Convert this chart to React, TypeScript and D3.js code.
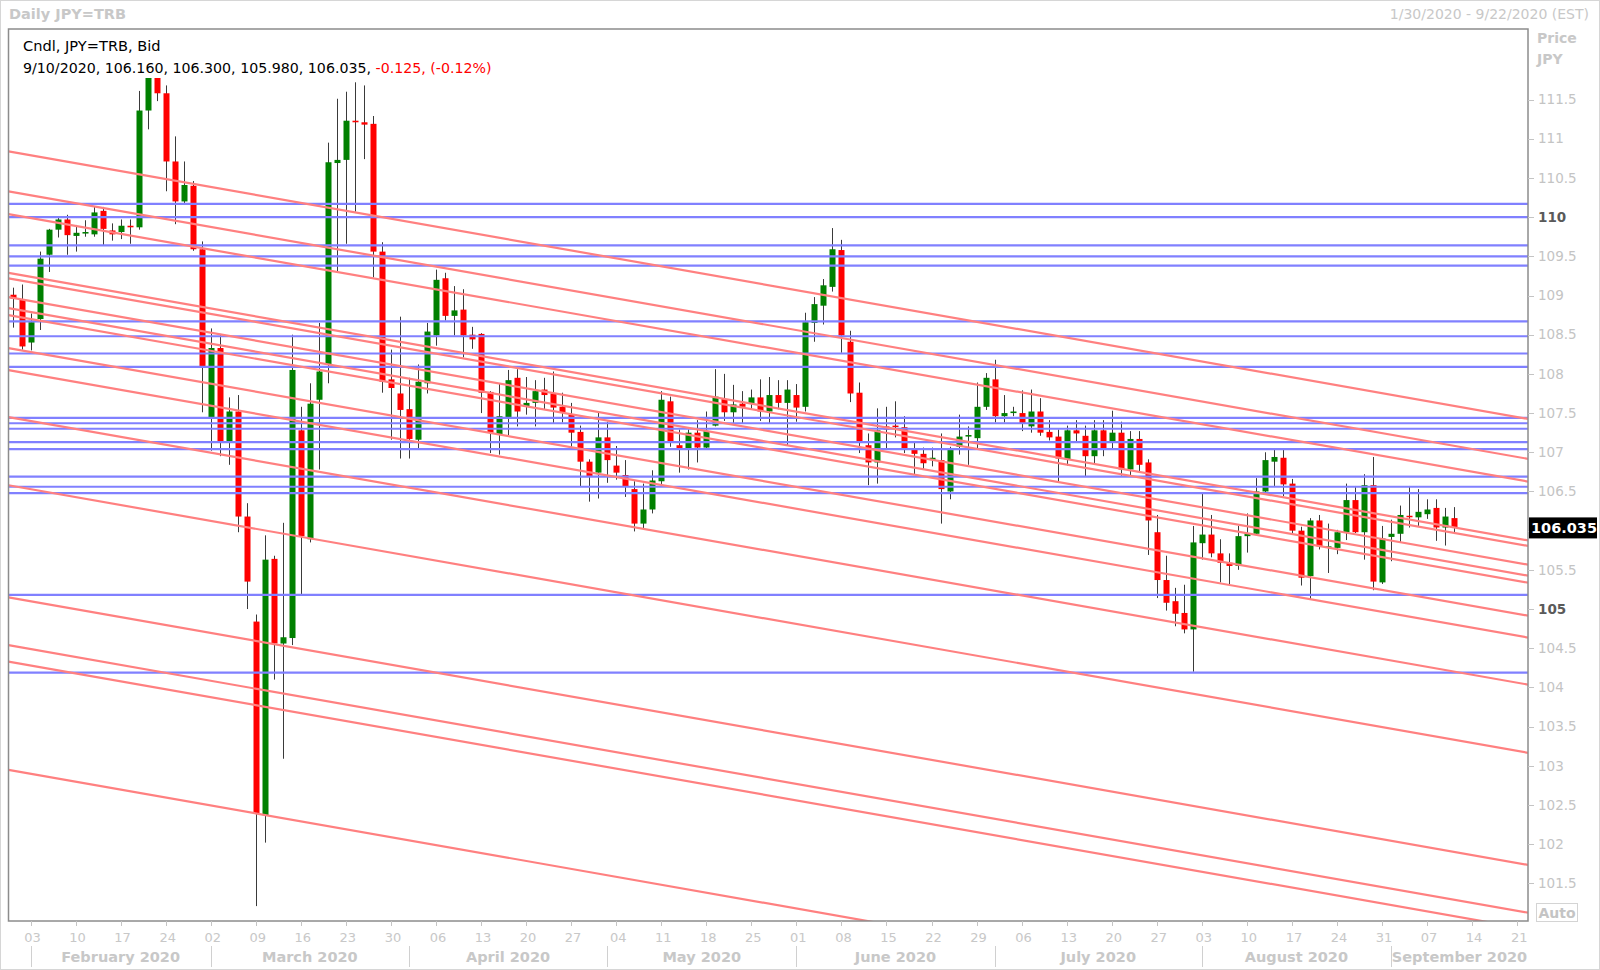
import { useEffect, useRef } from "react"
import * as d3 from "d3"

// daily bars, one per weekday starting 30 Jan 2020
const firstDay = new Date(2020, 0, 30)
const lastDay = new Date(2020, 8, 22)

const opens = [
  109.01, 108.95, 108.40, 108.70, 109.52, 109.84, 109.97, 109.76, 109.79, 109.78,
  110.08, 109.83, 109.81, 109.89, 109.87, 111.36, 112.09, 111.58, 110.71, 110.20,
  110.40, 109.59, 107.44, 108.33, 107.13, 107.52, 106.18, 104.84, 102.37, 105.64,
  104.56, 104.63, 107.28, 105.89, 107.67, 108.12, 110.69, 110.73, 111.23, 111.21,
  111.19, 109.56, 107.93, 107.75, 107.55, 107.16, 107.88, 108.49, 109.22, 108.74,
  108.82, 108.50, 108.51, 107.77, 107.22, 107.45, 107.95, 107.58, 107.63, 107.80,
  107.75, 107.58, 107.48, 107.26, 106.88, 106.74, 107.19, 106.83, 106.71, 106.53,
  106.09, 106.27, 106.63, 107.65, 107.09, 107.03, 107.25, 107.06, 107.34, 107.68,
  107.51, 107.62, 107.62, 107.70, 107.52, 107.73, 107.63, 107.73, 107.58, 108.65,
  108.87, 109.11, 109.58, 108.41, 107.76, 107.09, 106.87, 107.33, 107.34, 107.32,
  107.03, 106.98, 106.90, 106.90, 106.50, 107.07, 107.20, 107.18, 107.58, 107.93,
  107.46, 107.50, 107.50, 107.33, 107.52, 107.26, 107.20, 106.91, 107.28, 107.21,
  106.95, 107.28, 107.14, 107.25, 106.78, 107.17, 106.87, 105.98, 105.37, 105.10,
  104.95, 104.74, 105.84, 105.95, 105.71, 105.59, 105.55, 105.93, 105.96, 106.50,
  106.88, 106.93, 106.60, 106.00, 105.42, 106.13, 105.78, 105.78, 105.98, 106.39,
  105.98, 106.58, 105.34, 105.92, 105.96, 106.19, 106.17, 106.21, 106.29, 106.04,
  106.16,
]
const highs = [
  109.10, 109.14, 108.77, 109.56, 109.85, 110.00, 110.03, 109.90, 109.96, 110.13,
  110.13, 109.92, 109.97, 109.97, 111.61, 112.23, 112.19, 111.68, 111.03, 110.71,
  110.46, 109.69, 108.58, 108.51, 107.70, 107.73, 106.35, 104.93, 105.94, 105.68,
  106.10, 108.50, 107.58, 107.88, 108.65, 110.95, 111.51, 111.60, 111.72, 111.68,
  111.29, 109.68, 108.31, 108.73, 107.95, 108.12, 108.65, 109.33, 109.29, 109.12,
  109.08, 108.60, 108.52, 107.78, 107.88, 108.05, 108.06, 107.96, 107.92, 107.95,
  108.03, 107.76, 107.63, 107.34, 106.91, 107.51, 107.39, 107.08, 106.90, 106.63,
  106.60, 106.77, 107.78, 107.71, 107.29, 107.29, 107.41, 107.52, 108.06, 108.00,
  107.86, 107.78, 107.80, 107.93, 107.96, 107.92, 107.92, 107.87, 108.78, 108.98,
  109.21, 109.86, 109.71, 108.55, 107.89, 107.24, 107.56, 107.58, 107.65, 107.46,
  107.12, 107.06, 107.06, 107.24, 107.07, 107.48, 107.33, 107.89, 108.01, 108.18,
  107.73, 107.58, 107.79, 107.80, 107.69, 107.41, 107.29, 107.34, 107.41, 107.34,
  107.41, 107.41, 107.53, 107.39, 107.27, 107.27, 106.91, 106.20, 105.68, 105.27,
  105.31, 106.06, 106.47, 106.20, 105.89, 105.71, 106.06, 106.22, 106.67, 107.00,
  107.05, 107.05, 106.66, 106.05, 106.16, 106.20, 106.09, 106.01, 106.60, 106.57,
  106.72, 106.94, 106.06, 106.14, 106.32, 106.57, 106.53, 106.40, 106.40, 106.29,
  106.30,
]
const lows = [
  108.59, 108.31, 108.30, 108.56, 109.30, 109.74, 109.52, 109.56, 109.75, 109.75,
  109.64, 109.70, 109.72, 109.66, 109.84, 111.12, 111.48, 110.33, 109.91, 110.18,
  109.57, 107.51, 107.02, 106.95, 106.84, 105.98, 105.00, 101.21, 102.02, 104.10,
  103.09, 104.54, 105.18, 105.85, 106.78, 107.88, 109.31, 109.66, 110.07, 110.74,
  109.23, 107.76, 107.16, 106.92, 106.92, 107.03, 107.75, 108.36, 108.68, 108.49,
  108.21, 108.32, 107.50, 106.99, 106.97, 107.20, 107.33, 107.48, 107.33, 107.55,
  107.37, 107.38, 107.07, 106.56, 106.37, 106.41, 106.61, 106.65, 106.43, 105.99,
  106.03, 106.22, 106.58, 107.07, 106.74, 106.78, 106.87, 107.03, 107.33, 107.40,
  107.37, 107.37, 107.54, 107.40, 107.37, 107.55, 107.09, 107.39, 107.52, 108.41,
  108.63, 109.05, 108.27, 107.64, 106.99, 106.58, 106.60, 107.03, 107.19, 106.99,
  106.72, 106.78, 106.82, 106.09, 106.40, 106.97, 106.84, 107.05, 107.54, 107.38,
  107.38, 107.46, 107.27, 107.25, 107.21, 107.15, 106.62, 106.83, 107.14, 106.69,
  106.86, 106.95, 107.03, 106.70, 106.71, 106.76, 105.69, 105.14, 104.98, 104.78,
  104.69, 104.20, 105.63, 105.66, 105.34, 105.31, 105.50, 105.72, 105.95, 106.48,
  106.57, 106.44, 105.97, 105.30, 105.12, 105.76, 105.46, 105.70, 105.88, 105.97,
  105.63, 105.24, 105.32, 105.61, 105.85, 106.04, 106.06, 106.15, 105.87, 105.81,
  105.98,
]
const closes = [
  108.96, 108.35, 108.66, 109.47, 109.84, 109.97, 109.77, 109.80, 109.81, 110.06,
  109.85, 109.78, 109.89, 109.87, 111.36, 112.08, 111.58, 110.71, 110.20, 110.41,
  109.59, 108.10, 108.33, 107.13, 107.52, 106.18, 105.35, 102.39, 105.63, 104.56,
  104.64, 108.05, 105.93, 107.62, 108.03, 110.70, 110.73, 111.23, 111.21, 111.18,
  109.56, 107.90, 107.82, 107.54, 107.17, 107.90, 108.54, 109.20, 108.74, 108.81,
  108.49, 108.44, 107.76, 107.25, 107.46, 107.92, 107.52, 107.63, 107.78, 107.73,
  107.57, 107.51, 107.25, 106.88, 106.69, 107.19, 106.90, 106.74, 106.56, 106.09,
  106.27, 106.64, 107.67, 107.13, 107.03, 107.25, 107.06, 107.27, 107.71, 107.51,
  107.61, 107.58, 107.70, 107.52, 107.73, 107.63, 107.80, 107.57, 108.66, 108.89,
  109.13, 109.59, 108.49, 107.75, 107.12, 106.87, 107.28, 107.29, 107.33, 107.03,
  106.98, 106.86, 106.93, 106.53, 107.05, 107.20, 107.22, 107.58, 107.95, 107.46,
  107.50, 107.52, 107.37, 107.52, 107.25, 107.19, 106.92, 107.28, 107.24, 106.95,
  107.28, 107.03, 107.25, 106.78, 107.17, 106.84, 106.13, 105.37, 105.08, 104.94,
  104.74, 105.85, 105.95, 105.71, 105.59, 105.55, 105.93, 105.97, 106.50, 106.90,
  106.94, 106.59, 106.00, 105.40, 106.13, 105.80, 105.80, 105.98, 106.39, 105.98,
  106.58, 105.35, 105.90, 105.96, 106.20, 106.18, 106.24, 106.27, 106.04, 106.18,
  106.035,
]

// horizontal support / resistance levels (blue)
const levels = [
  110.17, 110.0, 109.64, 109.5, 109.38, 108.67, 108.48, 108.26, 108.09,
  107.44, 107.37, 107.3, 107.13, 107.04, 106.69, 106.56, 106.48, 105.18, 104.19,
]

// parallel trend lines (red): price on 30 Jan and on 22 Sep
const trendStart = [
  110.83, 110.32, 110.03, 109.28, 109.21, 108.97, 108.83, 108.74,
  108.32, 108.04, 107.44, 106.57, 105.14, 104.53, 104.32, 102.94,
]
const trendEnd = [
  107.43, 106.92, 106.63, 105.88, 105.81, 105.57, 105.43, 105.34,
  104.92, 104.64, 104.04, 103.17, 101.74, 101.13, 100.92, 99.54,
]

const priceTicks = [
  101.5, 102, 102.5, 103, 103.5, 104, 104.5, 105, 105.5, 106,
  106.5, 107, 107.5, 108, 108.5, 109, 109.5, 110, 110.5, 111, 111.5,
]
const boldTicks = [105, 110]
const monthNames = [
  "February 2020", "March 2020", "April 2020", "May 2020",
  "June 2020", "July 2020", "August 2020", "September 2020",
]

const lastClose = 106.035
const FONT = "'DejaVu Sans', Verdana, sans-serif"
const GREY = "#c4c4c4"

export default function App() {
  const svgRef = useRef<SVGSVGElement>(null)

  useEffect(() => {
    if (!svgRef.current) return
    const svg = d3.select(svgRef.current)
    svg.selectAll("*").remove()

    const W = 1600
    const H = 970
    const left = 8.5
    const right = 1528
    const top = 29
    const bottom = 921

    const days = d3.timeDay
      .range(firstDay, d3.timeDay.offset(lastDay, 1))
      .filter((d) => d.getDay() !== 0 && d.getDay() !== 6)

    const x = d3.scalePoint<number>()
      .domain(d3.range(days.length))
      .range([12.5, 12.5 + (days.length - 1) * 9.01])

    const y = d3.scaleLinear().domain([101.02, 112.4]).range([bottom, top])

    svg.attr("width", W).attr("height", H)
    svg.append("rect").attr("width", W).attr("height", H).attr("fill", "#fff")
    svg.append("rect")
      .attr("x", 0.5).attr("y", 0.5).attr("width", W - 1).attr("height", H - 1)
      .attr("fill", "none").attr("stroke", "#d6d6d6")

    // header
    svg.append("text")
      .attr("x", 9).attr("y", 19)
      .attr("font-family", FONT).attr("font-size", 14.5).attr("font-weight", 700)
      .attr("fill", "#c8c8c8")
      .text("Daily JPY=TRB")
    svg.append("text")
      .attr("x", 1589).attr("y", 19).attr("text-anchor", "end")
      .attr("font-family", FONT).attr("font-size", 14)
      .attr("fill", "#c8c8c8")
      .text("1/30/2020 - 9/22/2020 (EST)")

    svg.append("defs").append("clipPath").attr("id", "plot-clip")
      .append("rect")
      .attr("x", left).attr("y", top)
      .attr("width", right - left).attr("height", bottom - top)

    const plot = svg.append("g").attr("clip-path", "url(#plot-clip)")

    // candles
    const bars = d3.range(opens.length)
    const cg = plot.append("g")
    cg.selectAll("line.wick")
      .data(bars)
      .join("line")
      .attr("class", "wick")
      .attr("x1", (i) => Math.round(x(i)!) + 0.5)
      .attr("x2", (i) => Math.round(x(i)!) + 0.5)
      .attr("y1", (i) => y(highs[i]))
      .attr("y2", (i) => y(lows[i]))
      .attr("stroke", "#3a3a3a")
      .attr("stroke-width", 1)
    cg.selectAll("rect.body")
      .data(bars)
      .join("rect")
      .attr("class", "body")
      .attr("x", (i) => Math.round(x(i)!) - 2.5)
      .attr("width", 6)
      .attr("y", (i) => y(Math.max(opens[i], closes[i])))
      .attr("height", (i) => Math.max(1.5, Math.abs(y(opens[i]) - y(closes[i]))))
      .attr("fill", (i) => (closes[i] >= opens[i] ? "#008000" : "#ff0000"))

    // horizontal levels
    plot.append("g")
      .selectAll("line")
      .data(levels)
      .join("line")
      .attr("x1", left).attr("x2", right)
      .attr("y1", (d) => y(d)).attr("y2", (d) => y(d))
      .attr("stroke", "#8080ff")
      .attr("stroke-width", 2.2)

    // sloping channel lines
    const n = days.length - 1
    const xl = d3.scaleLinear().domain([0, n]).range([x(0)!, x(n)!])
    plot.append("g")
      .selectAll("line")
      .data(trendStart.map((s, k) => [s, trendEnd[k]]))
      .join("line")
      .attr("x1", left)
      .attr("x2", right)
      .attr("y1", ([s, e]) => y(s + (e - s) * (xl.invert(left) / n)))
      .attr("y2", ([s, e]) => y(s + (e - s) * (xl.invert(right) / n)))
      .attr("stroke", "#ff8080")
      .attr("stroke-width", 2.2)

    // legend (white box hides bars beneath)
    svg.append("rect")
      .attr("x", left + 1).attr("y", top + 1)
      .attr("width", 480).attr("height", 48)
      .attr("fill", "#fff")
    const lg = svg.append("g").attr("font-family", FONT).attr("font-size", 14.2)
    lg.append("text").attr("x", 23).attr("y", 51).attr("fill", "#000")
      .attr("font-size", 14.6)
      .text("Cndl, JPY=TRB, Bid")
    const l2 = lg.append("text").attr("x", 23).attr("y", 72.5).attr("fill", "#000")
    l2.append("tspan").text("9/10/2020, 106.160, 106.300, 105.980, 106.035, ")
    l2.append("tspan").attr("fill", "#ff0000").text("-0.125, (-0.12%)")

    // frame
    svg.append("rect")
      .attr("x", left).attr("y", top)
      .attr("width", right - left).attr("height", bottom - top)
      .attr("fill", "none").attr("stroke", "#8c8c8c").attr("stroke-width", 1.5)

    // price axis
    const ax = svg.append("g").attr("font-family", FONT)
    ax.append("text").attr("x", 1537).attr("y", 43)
      .attr("font-size", 14).attr("font-weight", 700).attr("fill", "#c8c8c8").text("Price")
    ax.append("text").attr("x", 1537).attr("y", 64)
      .attr("font-size", 14).attr("font-weight", 700).attr("fill", "#c8c8c8").text("JPY")
    ax.selectAll("line.tick")
      .data(priceTicks)
      .join("line")
      .attr("class", "tick")
      .attr("x1", right).attr("x2", right + 6)
      .attr("y1", (d) => Math.round(y(d)) + 0.5).attr("y2", (d) => Math.round(y(d)) + 0.5)
      .attr("stroke", "#c4c4c4")
    // the label under the last-price tag is hidden, as in the terminal
    const shownTicks = priceTicks.filter((d) => Math.abs(y(d) - y(lastClose)) > 14)
    ax.selectAll("text.tl")
      .data(shownTicks)
      .join("text")
      .attr("class", "tl")
      .attr("x", 1538)
      .attr("y", (d) => y(d))
      .attr("dy", "0.35em")
      .attr("font-size", 13.5)
      .attr("font-weight", (d) => (boldTicks.includes(d) ? 700 : 400))
      .attr("fill", (d) => (boldTicks.includes(d) ? "#5a5a5a" : GREY))
      .text((d) => d3.format("~f")(d))

    // last price tag
    ax.append("rect")
      .attr("x", 1529).attr("y", y(lastClose) - 10.5)
      .attr("width", 68).attr("height", 21).attr("fill", "#000")
    ax.append("text")
      .attr("x", 1531).attr("y", y(lastClose)).attr("dy", "0.36em")
      .attr("font-size", 14.5).attr("font-weight", 700).attr("fill", "#fff")
      .text(d3.format(".3f")(lastClose))

    // Auto button
    ax.append("rect")
      .attr("x", 1536.5).attr("y", 903.5).attr("width", 41).attr("height", 18)
      .attr("fill", "#fff").attr("stroke", "#d4d4d4")
    ax.append("text")
      .attr("x", 1557).attr("y", 913).attr("dy", "0.36em").attr("text-anchor", "middle")
      .attr("font-size", 14).attr("font-weight", 700).attr("fill", "#c4c4c4")
      .text("Auto")

    // time axis
    const tx = svg.append("g").attr("font-family", FONT)
    const mondays = d3.range(days.length).filter((i) => days[i].getDay() === 1)
    const monthStarts = d3.range(1, days.length).filter((i) => days[i].getMonth() !== days[i - 1].getMonth())
    tx.selectAll("line.dt")
      .data(mondays)
      .join("line")
      .attr("class", "dt")
      .attr("x1", (i) => Math.round(x(i)!) + 0.5).attr("x2", (i) => Math.round(x(i)!) + 0.5)
      .attr("y1", bottom).attr("y2", bottom + 5)
      .attr("stroke", "#c4c4c4")
    tx.selectAll("text.dl")
      .data(mondays)
      .join("text")
      .attr("class", "dl")
      .attr("x", (i) => x(i)! + 2)
      .attr("y", 937).attr("dy", "0.35em")
      .attr("text-anchor", "middle")
      .attr("font-size", 13).attr("fill", "#c8c8c8")
      .text((i) => d3.timeFormat("%d")(days[i]))
    tx.selectAll("line.ms")
      .data(monthStarts)
      .join("line")
      .attr("class", "ms")
      .attr("x1", (i) => Math.round(x(i)!) + 0.5).attr("x2", (i) => Math.round(x(i)!) + 0.5)
      .attr("y1", 946).attr("y2", 967)
      .attr("stroke", "#d0d0d0")
    tx.selectAll("text.ml")
      .data(monthStarts)
      .join("text")
      .attr("class", "ml")
      .attr("x", (i, k) => {
        const a = x(i)!
        const b = k + 1 < monthStarts.length ? x(monthStarts[k + 1])! : right
        return (a + b) / 2
      })
      .attr("y", 957).attr("dy", "0.36em")
      .attr("text-anchor", "middle")
      .attr("font-size", 14.5).attr("font-weight", 700).attr("fill", "#c8c8c8")
      .text((_, k) => monthNames[k])
  }, [])

  return (
    <div style={{ position: "absolute", left: 0, top: 0 }}>
      <svg ref={svgRef} style={{ display: "block" }} />
    </div>
  )
}
